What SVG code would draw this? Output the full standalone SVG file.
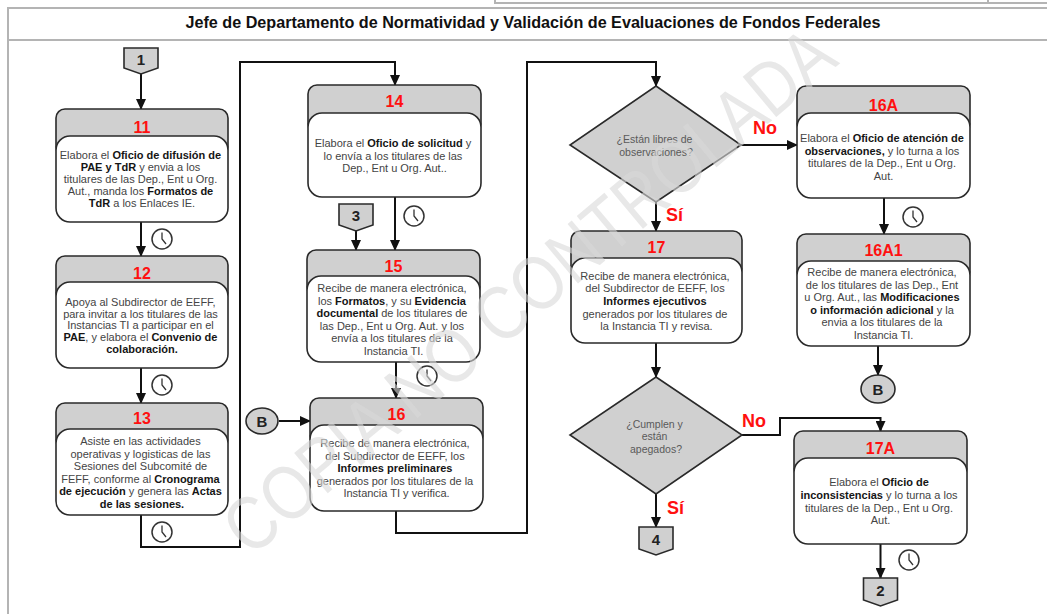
<svg xmlns="http://www.w3.org/2000/svg" width="1047" height="614" viewBox="0 0 1047 614">
<style>
.frame{fill:none;stroke:#b4b4b4;stroke-width:2}
.hdr{fill:#d0d0d0;stroke:#2a2a2a;stroke-width:1.6}
.body{fill:#ffffff;stroke:#2a2a2a;stroke-width:1.6}
.num{font-family:"Liberation Sans",Arial,sans-serif;font-size:16px;font-weight:bold;fill:#ff1010;text-anchor:middle}
.txt{font-family:"Liberation Sans",Arial,sans-serif;font-size:11px;fill:#444;text-anchor:middle}
.txt tspan.b{font-weight:bold;fill:#151515}
.dtxt{font-family:"Liberation Sans",Arial,sans-serif;font-size:10.5px;fill:#5a5a5a;text-anchor:middle}
.lbl{font-family:"Liberation Sans",Arial,sans-serif;font-size:18px;font-weight:bold;fill:#ff1010}
.conn{fill:#d0d0d0;stroke:#2a2a2a;stroke-width:1.6}
.ctxt{font-family:"Liberation Sans",Arial,sans-serif;font-size:15px;font-weight:bold;fill:#222;text-anchor:middle}
.edge{fill:none;stroke:#111;stroke-width:2}
.clock circle{fill:#fff;stroke:#333;stroke-width:1.5}
.clock path{fill:none;stroke:#333;stroke-width:1.3}
.title{font-family:"Liberation Sans",Arial,sans-serif;font-size:16px;font-weight:bold;fill:#111;text-anchor:middle}
.wm{font-family:"Liberation Sans",Arial,sans-serif;font-size:76px;fill:#d8d8d8;fill-opacity:0.6;text-anchor:middle}
</style>
<defs>
<marker id="arr" markerUnits="userSpaceOnUse" markerWidth="11" markerHeight="10" refX="10" refY="5" orient="auto">
<path d="M0,0 L11,5 L0,10 Z" fill="#111"/>
</marker>
<g id="clk" class="clock">
<circle cx="0" cy="0" r="10"/>
<path d="M0,-6.5 V0 L4,5"/>
</g>
</defs>
<rect width="1047" height="614" fill="#fff"/>
<!-- frame -->
<g id="frame">
<path class="frame" d="M495 0 V3 H1047 M988 0 V3" stroke-width="1.5"/>
<path class="frame" d="M8 614 V8 H1047"/>
<path class="frame" d="M8 40 H1047" stroke-width="2.5"/>
<text class="title" x="533" y="28" textLength="695" lengthAdjust="spacingAndGlyphs">Jefe de Departamento de Normatividad y Validación de Evaluaciones de Fondos Federales</text>
</g>

<g id="connectors">
<path class="edge" d="M141 74 V109" marker-end="url(#arr)"/>
<path class="edge" d="M141 222 V256" marker-end="url(#arr)"/>
<path class="edge" d="M141 368 V403" marker-end="url(#arr)"/>
<path class="edge" d="M141 515 V547 H240 V62 H395 V85" marker-end="url(#arr)"/>
<path class="edge" d="M395 197 V250" marker-end="url(#arr)"/>
<path class="edge" d="M356 231 V250" marker-end="url(#arr)"/>
<path class="edge" d="M396 362 V398" marker-end="url(#arr)"/>
<path class="edge" d="M279 421 H310" marker-end="url(#arr)"/>
<path class="edge" d="M396 511 V533 H527 V62 H656 V86" marker-end="url(#arr)"/>
<path class="edge" d="M741 145 H797" marker-end="url(#arr)"/>
<path class="edge" d="M656 202 V231" marker-end="url(#arr)"/>
<path class="edge" d="M656 343 V377" marker-end="url(#arr)"/>
<path class="edge" d="M742 435 H780 V418 H880.5 V431" marker-end="url(#arr)"/>
<path class="edge" d="M656 494 V527" marker-end="url(#arr)"/>
<path class="edge" d="M884 198 V234" marker-end="url(#arr)"/>
<path class="edge" d="M878 346 V375" marker-end="url(#arr)"/>
<path class="edge" d="M880.5 544 V578" marker-end="url(#arr)"/>
<text class="lbl" x="753" y="134">No</text>
<text class="lbl" x="666" y="221">Sí</text>
<text class="lbl" x="742" y="427">No</text>
<text class="lbl" x="667" y="514">Sí</text>
</g>

<g id="clocks">
<use href="#clk" x="162" y="239"/>
<use href="#clk" x="162" y="385"/>
<use href="#clk" x="162" y="532"/>
<use href="#clk" x="414" y="216"/>
<use href="#clk" x="427" y="376"/>
<use href="#clk" x="913" y="217"/>
<use href="#clk" x="909" y="560"/>
</g>

<g id="c1">
<path class="conn" d="M124 48 H158 V68 L141 74 L124 68 Z"/>
<text class="ctxt" x="141" y="65">1</text>
</g>
<g id="c3">
<path class="conn" d="M339 204 H373 V225 L356 231 L339 225 Z"/>
<text class="ctxt" x="356" y="221">3</text>
</g>
<g id="c4">
<path class="conn" d="M639 527 H673 V549 L656 555 L639 549 Z"/>
<text class="ctxt" x="656" y="545">4</text>
</g>
<g id="c2">
<path class="conn" d="M863.5 578 H897.5 V600 L880.5 606 L863.5 600 Z"/>
<text class="ctxt" x="880.5" y="596">2</text>
</g>
<g id="b1">
<ellipse class="conn" cx="262" cy="421" rx="16" ry="13"/>
<text class="ctxt" x="262" y="426.5">B</text>
</g>
<g id="b2">
<ellipse class="conn" cx="878" cy="389" rx="17" ry="14"/>
<text class="ctxt" x="878" y="394.5">B</text>
</g>

<g id="n11">
<rect class="hdr" x="56" y="109" width="172" height="47" rx="9"/>
<rect class="body" x="56" y="136" width="172" height="86" rx="14"/>
<text class="num" x="142" y="133">11</text>
<text class="txt">
<tspan x="142" y="159">Elabora el <tspan class="b">Oficio de difusión de</tspan></tspan>
<tspan x="142" y="171"><tspan class="b">PAE y TdR</tspan> y envia a los</tspan>
<tspan x="142" y="183">titulares  de las Dep., Ent u Org.</tspan>
<tspan x="142" y="195">Aut., manda los <tspan class="b">Formatos de</tspan></tspan>
<tspan x="142" y="206.5"><tspan class="b">TdR</tspan> a los Enlaces IE.</tspan>
</text>
</g>

<g id="n12">
<rect class="hdr" x="56" y="256" width="172" height="46" rx="9"/>
<rect class="body" x="56" y="282" width="172" height="86" rx="14"/>
<text class="num" x="142" y="279">12</text>
<text class="txt">
<tspan x="142" y="306">Apoya al Subdirector de EEFF,</tspan>
<tspan x="142" y="317.5">para invitar a los titulares de las</tspan>
<tspan x="142" y="329">Instancias TI a participar en el</tspan>
<tspan x="142" y="341"><tspan class="b">PAE</tspan>, y elabora el <tspan class="b">Convenio de</tspan></tspan>
<tspan x="142" y="352.5"><tspan class="b">colaboración.</tspan></tspan>
</text>
</g>

<g id="n13">
<rect class="hdr" x="56" y="403" width="172" height="46" rx="9"/>
<rect class="body" x="56" y="429" width="172" height="86" rx="14"/>
<text class="num" x="142" y="424">13</text>
<text class="txt">
<tspan x="142" y="445">Asiste en las actividades</tspan>
<tspan x="142" y="457.5">operativas y logisticas de las</tspan>
<tspan x="142" y="470">Sesiones del Subcomité de</tspan>
<tspan x="142" y="482.5">FEFF, conforme al <tspan class="b">Cronograma</tspan></tspan>
<tspan x="142" y="495"><tspan class="b">de ejecución</tspan> y genera las <tspan class="b">Actas</tspan></tspan>
<tspan x="142" y="507.5"><tspan class="b">de las sesiones.</tspan></tspan>
</text>
</g>

<g id="n14">
<rect class="hdr" x="308" y="85" width="173" height="48" rx="9"/>
<rect class="body" x="308" y="113" width="173" height="84" rx="14"/>
<text class="num" x="394.5" y="107">14</text>
<text class="txt">
<tspan x="394.5" y="147">Elabora el <tspan class="b">Oficio de solicitud</tspan> y</tspan>
<tspan x="394.5" y="159.5">lo envía a los titulares de las</tspan>
<tspan x="394.5" y="172">Dep., Ent u Org. Aut..</tspan>
</text>
</g>

<g id="n15">
<rect class="hdr" x="307" y="250" width="173" height="46" rx="9"/>
<rect class="body" x="307" y="276" width="173" height="86" rx="14"/>
<text class="num" x="393.5" y="272">15</text>
<text class="txt">
<tspan x="393.5" y="292">Recibe de manera electrónica,</tspan>
<tspan x="393.5" y="304.5">los <tspan class="b">Formatos</tspan>, y su <tspan class="b">Evidencia</tspan></tspan>
<tspan x="393.5" y="317"><tspan class="b">documental</tspan> de los titulares de</tspan>
<tspan x="393.5" y="329.5">las Dep., Ent u Org. Aut. y los</tspan>
<tspan x="393.5" y="342">envía a los titulares de la</tspan>
<tspan x="393.5" y="354.5">Instancia TI.</tspan>
</text>
</g>

<g id="n16">
<rect class="hdr" x="310" y="398" width="173" height="47" rx="9"/>
<rect class="body" x="310" y="425" width="173" height="86" rx="14"/>
<text class="num" x="396.5" y="420">16</text>
<text class="txt">
<tspan x="396.5" y="447">Recibe de manera electrónica,</tspan>
<tspan x="396.5" y="459.5">del Subdirector de EEFF, los</tspan>
<tspan x="396.5" y="472"><tspan class="b">Informes preliminares</tspan></tspan>
<tspan x="396.5" y="484.5">generados por los titulares de la</tspan>
<tspan x="396.5" y="497">Instancia TI y verifica.</tspan>
</text>
</g>

<g id="d1">
<path class="hdr" d="M656 86 L741 145 L656 202 L570 145 Z"/>
<text class="dtxt">
<tspan x="656" y="142.5">¿Están libres de</tspan>
<tspan x="656" y="155.5">observaciones?</tspan>
</text>
</g>

<g id="n17">
<rect class="hdr" x="571" y="231" width="171" height="47" rx="9"/>
<rect class="body" x="571" y="258" width="171" height="85" rx="14"/>
<text class="num" x="656.5" y="253">17</text>
<text class="txt">
<tspan x="656.5" y="280">Recibe de manera electrónica,</tspan>
<tspan x="656.5" y="292">del Subdirector de EEFF, los</tspan>
<tspan x="656.5" y="304.5"><tspan class="b">Informes ejecutivos</tspan></tspan>
<tspan x="656.5" y="317.5">generados por los titulares de</tspan>
<tspan x="656.5" y="330">la Instancia TI y revisa.</tspan>
</text>
</g>

<g id="d2">
<path class="hdr" d="M656 377 L742 435 L656 494 L570 435 Z"/>
<text class="dtxt">
<tspan x="656" y="427.5">¿Cumplen y</tspan>
<tspan x="656" y="440">están</tspan>
<tspan x="656" y="452.5">apegados?</tspan>
</text>
</g>

<g id="n16A">
<rect class="hdr" x="797" y="86" width="173" height="47" rx="9"/>
<rect class="body" x="797" y="113" width="173" height="85" rx="14"/>
<text class="num" x="883.5" y="111">16A</text>
<text class="txt">
<tspan x="883.5" y="142">Elabora el <tspan class="b">Oficio de atención de</tspan></tspan>
<tspan x="883.5" y="154.5"><tspan class="b">observaciones,</tspan> y lo turna a los</tspan>
<tspan x="883.5" y="167">titulares de la Dep., Ent u Org.</tspan>
<tspan x="883.5" y="179.5">Aut.</tspan>
</text>
</g>

<g id="n16A1">
<rect class="hdr" x="797" y="234" width="173" height="47" rx="9"/>
<rect class="body" x="797" y="261" width="173" height="85" rx="14"/>
<text class="num" x="883.5" y="256">16A1</text>
<text class="txt">
<tspan x="883.5" y="276">Recibe de manera electrónica,</tspan>
<tspan x="883.5" y="288.5">de los titulares  de las Dep., Ent</tspan>
<tspan x="883.5" y="301">u Org. Aut., las <tspan class="b">Modificaciones</tspan></tspan>
<tspan x="883.5" y="313.5"><tspan class="b">o información  adicional</tspan> y la</tspan>
<tspan x="883.5" y="326">envia a los titulares de la</tspan>
<tspan x="883.5" y="338.5">Instancia TI.</tspan>
</text>
</g>

<g id="n17A">
<rect class="hdr" x="794" y="431" width="173" height="47" rx="9"/>
<rect class="body" x="794" y="458" width="173" height="86" rx="14"/>
<text class="num" x="880.5" y="454">17A</text>
<text class="txt">
<tspan x="880.5" y="486">Elabora el <tspan class="b">Oficio de</tspan></tspan>
<tspan x="880.5" y="499"><tspan class="b">inconsistencias</tspan> y lo turna a los</tspan>
<tspan x="880.5" y="511.5">titulares de la Dep., Ent u Org.</tspan>
<tspan x="880.5" y="524">Aut.</tspan>
</text>
</g>

<text class="wm" transform="translate(528,290) rotate(-40)" x="0" y="27" textLength="770" lengthAdjust="spacingAndGlyphs">COPIA NO CONTROLADA</text>
</svg>
